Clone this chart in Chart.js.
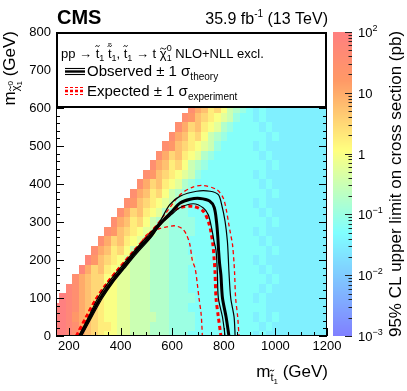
<!DOCTYPE html>
<html>
<head>
<meta charset="utf-8">
<script src="https://cdn.jsdelivr.net/npm/chart.js@4.4.0/dist/chart.umd.min.js"></script>
<style>
  html, body { margin: 0; padding: 0; background: #fff; }
</style>
</head>
<body>
<canvas id="grafico" width="407" height="391"></canvas>
<script>
// Bins of the scan (GeV)
const stopMass = [150,175,200,225,250,275,300,325,350,375,400,425,450,475,500,525,550,575,600,625,650,675,700,725,750,775,800,825,850,875,900,925,950,975,1000,1025,1050,1075,1100,1125,1150,1175,1200];
const lspMass = [0,25,50,75,100,125,150,175,200,225,250,275,300,325,350,375,400,425,450,475,500,525,550,575,600];

// Upper limit per cell, one letter per stop mass ('.' = no point).
// Letter index i in limitKey means 10^(-2 + i/4) pb.
const limitKey = '0123456789ABCDEFG';
const limitRows = [
  'GGFECBA988 7766655544 4333333333 3232222222 222', // 0
  'GGFECBA998 7766655544 4433333333 3323222222 222', // 25
  'GGFDCBA988 7766665544 4433333333 3232322222 222', // 50
  'GGFECBA988 7766655544 4333333333 3332222222 222', // 75
  '.GFECBA988 7766655544 4433333333 3232222222 222', // 100
  '..FECBAA88 7766655544 4333333333 3323222222 222', // 125
  '...ECBAA88 7766655544 4333333333 3332322222 222', // 150
  '....FCAB98 7766655544 4333333333 3323222222 222', // 175
  '.....FDBA9 8766655544 4433333333 3232222222 222', // 200
  '......ECB9 A866655544 4333333333 3332322222 222', // 225
  '.......ECA B987655544 4333333333 3323222222 222', // 250
  '........ED BA98765544 4433333333 3232222222 222', // 275
  '.........E CB9A865544 4433333333 3332322222 222', // 300
  '.......... ECAB987544 4333333333 3323222222 222', // 325
  '.......... .EDBA98764 4333333333 3232222222 222', // 350
  '.......... ..ECB9A865 4333333333 3332322222 222', // 375
  '.......... ...ECAB987 5433333333 3323222222 222', // 400
  '.......... ....EDBA98 7643333333 3232222222 222', // 425
  '.......... .....ECB9A 8654333333 3332322222 222', // 450
  '.......... ......ECAB 9875433333 3323222222 222', // 475
  '.......... .......EDB A987643333 3232222222 222', // 500
  '.......... ........EC B9A8654333 3332322222 222', // 525
  '.......... .........E CAB9875433 3323222222 222', // 550
  '.......... .......... EDBA987643 3232222222 222', // 575
  '.......... .......... .ECB9A8654 3232222222 222'  // 600
];

// Exclusion contours [m_stop, m_lsp]
const observado = [[243,0],[282,50],[322,100],[365,142],[410,180],[460,222],[514,262],[553,295],[598,327],[631,350],[670,360],[708,362],[745,355],[763,338],[772,300],[777,260],[780,225],[784,190],[789,160],[795,100],[809,50],[820,0]];
const observadoArriba = [[238,0],[276,50],[314,102],[358,145],[405,184],[456,226],[510,267],[553,302],[590,345],[631,368],[695,381],[747,381],[779,372],[792,345],[805,302],[814,250],[818,200],[820,170],[827,100],[840,50],[844,0]];
const observadoAbajo = [[249,0],[289,50],[330,100],[370,140],[414,177],[464,218],[517,258],[553,292],[598,320],[631,338],[682,348],[721,337],[740,319],[753,284],[762,250],[770,225],[775,170],[779,100],[795,50],[805,0]];
const esperado = [[230,0],[268,50],[306,97],[350,140],[398,180],[450,220],[505,262],[560,300],[617,335],[682,341],[721,328],[740,302],[750,275],[758,240],[763,200],[766,170],[770,100],[779,50],[789,0]];
const esperadoArriba = [[226,0],[264,50],[302,97],[346,140],[394,180],[446,222],[500,262],[545,297],[575,323],[631,372],[680,392],[720,396],[773,385],[798,363],[811,328],[818,300],[826,270],[834,240],[840,190],[842,165],[846,100],[854,50],[859,0]];
const esperadoAbajo = [[247,0],[286,50],[326,100],[368,141],[412,178],[450,212],[475,240],[501,266],[553,283],[579,287],[611,290],[640,282],[656,266],[669,240],[678,200],[689,178],[697,140],[704,100],[712,60],[715,30],[717,0]];

const xTicks = [200,400,600,800,1000,1200];
const yTicks = [0,100,200,300,400,500,600,700,800];

const FONT = '"Liberation Sans", Arial, Helvetica, sans-serif';
const palStops = [0, 0.34, 0.61, 0.84, 1];
const palR = [0.5, 0.5, 1, 1, 1];
const palG = [0.5, 1, 1, 0.6, 0.5];
const palB = [1, 1, 0.5, 0.4, 0.5];

function colorPaleta(t) {
  t = Math.min(1, Math.max(0, t));
  let k = 0;
  while (k < palStops.length - 2 && t > palStops[k + 1]) k++;
  const f = (t - palStops[k]) / (palStops[k + 1] - palStops[k]);
  const c = a => Math.round(255 * (a[k] + (a[k + 1] - a[k]) * f));
  return `rgb(${c(palR)},${c(palG)},${c(palB)})`;
}

function colorValor(z, v) {
  return colorPaleta((z.bottom - z.getPixelForValue(v)) / (z.bottom - z.top));
}

function tilde(ctx, cx, ty, w) {
  ctx.save();
  ctx.lineWidth = 0.9;
  ctx.strokeStyle = '#000';
  ctx.beginPath();
  ctx.moveTo(cx - w / 2, ty + 0.8);
  ctx.quadraticCurveTo(cx - w / 4, ty - 1.6, cx, ty);
  ctx.quadraticCurveTo(cx + w / 4, ty + 1.6, cx + w / 2, ty - 0.8);
  ctx.stroke();
  ctx.restore();
}

// texto con subindices / superindices
function rico(ctx, partes, x, y, soloMedir) {
  let cx = x;
  for (const p of partes) {
    ctx.font = `${p.b ? 'bold ' : ''}${p.s}px ${FONT}`;
    const w = ctx.measureText(p.t).width;
    const yy = y + (p.dy || 0);
    if (!soloMedir) {
      ctx.fillText(p.t, cx, yy);
      if (p.tl) tilde(ctx, cx + w / 2, yy - p.s * p.tl, Math.max(4, w * 0.95));
      if (p.bar) ctx.fillRect(cx + w * 0.05, yy - p.s * p.bar, w * 0.9, 0.9);
    }
    if (!p.stay) cx += w;
  }
  return cx - x;
}

const celdas = {
  id: 'celdas',
  beforeDatasetsDraw(chart) {
    const { ctx, chartArea: a, scales: { x, y, z } } = chart;
    ctx.save();
    ctx.beginPath();
    ctx.rect(a.left, a.top, a.right - a.left, a.bottom - a.top);
    ctx.clip();
    lspMass.forEach((ml, j) => {
      const fila = limitRows[j].replace(/ /g, '');
      const y0 = Math.round(y.getPixelForValue(ml + 12.5));
      const y1 = Math.round(y.getPixelForValue(ml - 12.5));
      stopMass.forEach((ms, i) => {
        const k = limitKey.indexOf(fila[i]);
        if (k < 0) return;
        const x0 = Math.round(x.getPixelForValue(ms - 12.5));
        const x1 = Math.round(x.getPixelForValue(ms + 12.5));
        ctx.fillStyle = colorValor(z, Math.pow(10, -2 + k / 4));
        ctx.fillRect(x0, y0, x1 - x0, y1 - y0);
      });
    });
    ctx.restore();
  },
  afterDatasetsDraw(chart) {
    const { ctx, chartArea: a, scales: { x, y, z } } = chart;
    ctx.save();
    ctx.strokeStyle = '#000';
    ctx.fillStyle = '#000';
    // marcas de los ejes (hacia dentro)
    ctx.lineWidth = 1;
    ctx.beginPath();
    for (let v = 150; v <= 1200; v += 50) {
      const px = Math.round(x.getPixelForValue(v)) + 0.5;
      const len = xTicks.includes(v) ? 8 : 4;
      ctx.moveTo(px, a.bottom); ctx.lineTo(px, a.bottom - len);
    }
    for (let v = 0; v <= 800; v += 20) {
      const py = Math.round(y.getPixelForValue(v)) + 0.5;
      const len = v % 100 === 0 ? 8 : 4;
      ctx.moveTo(a.left, py); ctx.lineTo(a.left + len, py);
      ctx.moveTo(a.right, py); ctx.lineTo(a.right - len, py);
    }
    ctx.stroke();
    ctx.strokeRect(a.left + 0.5, a.top + 0.5, a.right - a.left - 1, a.bottom - a.top - 1);

    // caja de la leyenda
    const lt = y.getPixelForValue(800), lb = y.getPixelForValue(600);
    ctx.fillStyle = '#fff';
    ctx.fillRect(a.left, lt, a.right - a.left, lb - lt);
    ctx.lineWidth = 2;
    ctx.strokeRect(a.left + 1, lt + 1, a.right - a.left - 2, lb - lt - 2);

    ctx.fillStyle = '#000';
    ctx.textAlign = 'left';
    ctx.textBaseline = 'alphabetic';
    const S = 13, s = 9;
    rico(ctx, [
      { t: 'pp \u2192 ', s: S },
      { t: 't', s: S, tl: 0.92 }, { t: '1', s: s, dy: 3 }, { t: ' ', s: S },
      { t: 't', s: S, tl: 0.92, bar: 1.12 }, { t: '1', s: s, dy: 3 }, { t: ', ', s: S },
      { t: 't', s: S, tl: 0.92 }, { t: '1', s: s, dy: 3 },
      { t: ' \u2192 t ', s: S },
      { t: '\u03c7', s: S, tl: 0.72 }, { t: '0', s: s, dy: -7, stay: true }, { t: '1', s: s, dy: 3 },
      { t: ' NLO+NLL excl.', s: S }
    ], a.left + 5, lt + 26);

    // iconos
    ctx.strokeStyle = '#000';
    [[68.5, 1.1], [71.5, 2.4], [74.5, 1.1]].forEach(([yy, lw]) => {
      ctx.lineWidth = lw;
      ctx.beginPath(); ctx.moveTo(a.left + 9, yy); ctx.lineTo(a.left + 29, yy); ctx.stroke();
    });
    ctx.strokeStyle = '#ff0000';
    ctx.setLineDash([3, 2]);
    [[87.5, 1.1], [91, 2.4], [94.5, 1.1]].forEach(([yy, lw]) => {
      ctx.lineWidth = lw;
      ctx.beginPath(); ctx.moveTo(a.left + 9, yy); ctx.lineTo(a.left + 28, yy); ctx.stroke();
    });
    ctx.setLineDash([]);
    rico(ctx, [{ t: 'Observed \u00b1 1 \u03c3', s: 15 }, { t: 'theory', s: 10, dy: 4 }], a.left + 31, 76);
    rico(ctx, [{ t: 'Expected \u00b1 1 \u03c3', s: 15 }, { t: 'experiment', s: 10, dy: 4 }], a.left + 31, 96);

    // barra de color
    const bx = a.right + 6, bw = 19;
    for (let py = Math.floor(z.top); py < z.bottom; py++) {
      ctx.fillStyle = colorValor(z, z.getValueForPixel(py + 0.5));
      ctx.fillRect(bx, py, bw, 1);
    }
    ctx.strokeStyle = '#222';
    ctx.lineWidth = 1;
    ctx.beginPath();
    for (let p = -3; p <= 2; p++) {
      for (let m = 1; m <= 9; m++) {
        const v = m * Math.pow(10, p);
        if (v > 100.0001) break;
        const py = Math.round(z.getPixelForValue(v)) + 0.5;
        const len = m === 1 ? 7 : 3.5;
        ctx.moveTo(bx + bw, py); ctx.lineTo(bx + bw - len, py);
      }
    }
    ctx.stroke();
    ctx.fillStyle = '#000';
    for (let p = -3; p <= 2; p++) {
      const py = z.getPixelForValue(Math.pow(10, p)) + 5;
      if (p === 0) rico(ctx, [{ t: '1', s: 13 }], bx + bw + 6, py);
      else if (p === 1) rico(ctx, [{ t: '10', s: 13 }], bx + bw + 6, py);
      else rico(ctx, [{ t: '10', s: 13 }, { t: (p < 0 ? '\u2212' : '') + Math.abs(p), s: 9, dy: -6 }], bx + bw + 6, py);
    }

    // titulos
    rico(ctx, [{ t: 'CMS', s: 20, b: true }], a.left + 1, 24);
    const cab = [{ t: '35.9 fb', s: 16 }, { t: '-1', s: 10, dy: -7 }, { t: ' (13 TeV)', s: 16 }];
    rico(ctx, cab, a.right + 1 - rico(ctx, cab, 0, 0, true), 24);

    const tx = [{ t: 'm', s: 17 }, { t: 't', s: 11, dy: 4, tl: 0.95 }, { t: '1', s: 8, dy: 7 }, { t: ' (GeV)', s: 17 }];
    rico(ctx, tx, a.right + 1 - rico(ctx, tx, 0, 0, true), 377);

    const ty = [{ t: 'm', s: 17 }, { t: '\u03c7', s: 11, dy: 4, tl: 0.8 }, { t: '0', s: 8, dy: -2, stay: true }, { t: '1', s: 8, dy: 7 }, { t: ' (GeV)', s: 17 }];
    ctx.save();
    ctx.translate(15, a.top - 1);
    ctx.rotate(-Math.PI / 2);
    rico(ctx, ty, -rico(ctx, ty, 0, 0, true), 0);
    ctx.restore();

    const tz = [{ t: '95% CL upper limit on cross section (pb)', s: 17 }];
    ctx.save();
    ctx.translate(401, (z.top + z.bottom) / 2);
    ctx.rotate(-Math.PI / 2);
    rico(ctx, tz, -rico(ctx, tz, 0, 0, true) / 2, 0);
    ctx.restore();

    ctx.restore();
  }
};

const linea = (datos, color, ancho, guion) => ({
  type: 'line',
  data: datos.map(([mx, my]) => ({ x: mx, y: my })),
  borderColor: color,
  borderWidth: ancho,
  borderDash: guion || [],
  pointRadius: 0,
  tension: 0.3,
  fill: false
});

const ejeTicks = { color: '#000', font: { family: FONT, size: 13 }, callback: v => String(v) };

new Chart(document.getElementById('grafico'), {
  type: 'line',
  data: {
    datasets: [
      linea(observado, '#000', 3),
      linea(observadoArriba, '#000', 1.2),
      linea(observadoAbajo, '#000', 1.2),
      linea(esperado, '#ff0000', 3, [4, 3]),
      linea(esperadoArriba, '#ff0000', 1.3, [4, 3]),
      linea(esperadoAbajo, '#ff0000', 1.3, [4, 3])
    ]
  },
  options: {
    responsive: false,
    animation: false,
    devicePixelRatio: 1,
    layout: { padding: { top: 32, left: 0, right: 0, bottom: 0 } },
    plugins: { legend: { display: false }, tooltip: { enabled: false } },
    scales: {
      x: {
        type: 'linear', min: 150, max: 1200,
        grid: { display: false, drawTicks: false },
        border: { display: false },
        afterBuildTicks: s => { s.ticks = xTicks.map(v => ({ value: v })); },
        afterFit: s => { s.height = 55; },
        ticks: { ...ejeTicks, padding: 3, maxRotation: 0, autoSkip: false }
      },
      y: {
        type: 'linear', min: 0, max: 800,
        grid: { display: false, drawTicks: false },
        border: { display: false },
        afterBuildTicks: s => { s.ticks = yTicks.map(v => ({ value: v })); },
        afterFit: s => { s.width = 56; },
        ticks: { ...ejeTicks, padding: 5, autoSkip: false }
      },
      z: {
        type: 'logarithmic', position: 'right', min: 1e-3, max: 1e2,
        grid: { display: false, drawTicks: false },
        border: { display: false },
        ticks: { display: false },
        afterFit: s => { s.width = 80; }
      }
    }
  },
  plugins: [celdas]
});
</script>
</body>
</html>
